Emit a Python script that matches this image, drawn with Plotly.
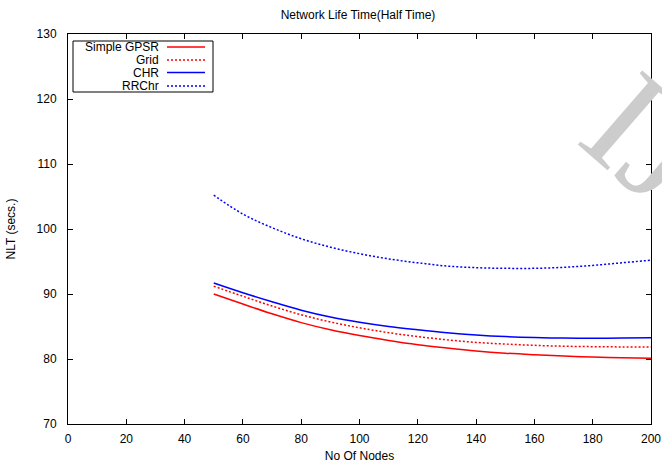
import plotly.graph_objects as go

# ---- data ----
nodes = [50, 60, 70, 80, 90, 100, 110, 120, 130, 140, 150, 160, 170, 180, 190, 200]
simple_gpsr = [90.0, 88.45, 86.95, 85.6, 84.5, 83.6, 82.85, 82.2, 81.7, 81.25, 80.9, 80.65, 80.45, 80.3, 80.2, 80.1]
grid = [91.2, 89.65, 88.15, 86.8, 85.7, 84.8, 84.05, 83.45, 82.95, 82.55, 82.3, 82.1, 81.97, 81.9, 81.86, 81.85]
chr_ = [91.7, 90.2, 88.8, 87.5, 86.45, 85.65, 85.0, 84.5, 84.05, 83.7, 83.45, 83.3, 83.22, 83.2, 83.22, 83.28]
rrchr = [105.2, 102.3, 100.2, 98.5, 97.2, 96.2, 95.4, 94.8, 94.3, 94.05, 93.95, 93.95, 94.1, 94.4, 94.8, 95.2]

series_names = ["Simple GPSR", "Grid", "CHR", "RRChr"]
series_values = [simple_gpsr, grid, chr_, rrchr]
series_colors = ["#ff0000", "#ff0000", "#0000ff", "#0000ff"]
series_dash = ["solid", "2px,2px", "solid", "2px,2px"]

x_ticks = list(range(0, 201, 20))
y_ticks = list(range(70, 131, 10))

FONT = "Liberation Sans, Arial, Helvetica, sans-serif"

fig = go.Figure()
for name, vals, col, dash in zip(series_names, series_values, series_colors, series_dash):
    fig.add_trace(go.Scatter(
        x=nodes, y=vals, mode="lines", name=name, line_shape="spline",
        line=dict(color=col, width=1.5, dash=dash), showlegend=False,
    ))

# ---- manual gnuplot-style legend (text right, sample on right) ----
L, R, T, B = 68, 651, 34, 424
W, H = R - L, B - T
px = lambda v: (v - L) / W
py = lambda v: (B - v) / H

annotations = []
# faint watermark seen on the reference (drawn first, behind everything)
annotations.append(dict(xref="paper", yref="paper", x=px(648), y=py(138),
                        xanchor="center", yanchor="middle", text="IJ", showarrow=False,
                        textangle=41,
                        font=dict(family="Liberation Serif, Times New Roman, serif", size=150,
                                  color="#cccccc")))

shapes = [dict(type="rect", xref="paper", yref="paper",
               x0=px(73), x1=px(213), y0=py(92), y1=py(41),
               line=dict(color="black", width=1), fillcolor="white", layer="above")]
rows = [47, 60, 72.5, 86]
for name, col, dash, ry in zip(series_names, series_colors, series_dash, rows):
    annotations.append(dict(xref="paper", yref="paper", x=px(160), y=py(ry),
                            xanchor="right", yanchor="middle", text=name, showarrow=False,
                            borderpad=0,
                            font=dict(family=FONT, size=12, color="black")))
    shapes.append(dict(type="line", xref="paper", yref="paper",
                       x0=px(167), x1=px(205), y0=py(ry), y1=py(ry),
                       line=dict(color=col, width=1.5, dash=dash), layer="above"))

axis_common = dict(showline=True, linecolor="black", linewidth=1, mirror="ticks",
                   ticks="inside", ticklen=5, tickcolor="black", tickwidth=1,
                   showgrid=False, zeroline=False, automargin=False,
                   tickfont=dict(family=FONT, size=12, color="black"))

fig.update_layout(
    width=662, height=466,
    margin=dict(l=L, r=662 - R, t=T, b=466 - B, autoexpand=False),
    paper_bgcolor="white", plot_bgcolor="white",
    title=dict(text="Network Life Time(Half Time)", x=358 / 662, xanchor="center",
               y=1 - 15 / 466, yanchor="middle", automargin=False,
               font=dict(family=FONT, size=12, color="black")),
    xaxis=dict(range=[0, 200], tickvals=x_ticks, ticklabelstandoff=4,
               title=dict(text="No Of Nodes", standoff=6,
                          font=dict(family=FONT, size=12, color="black")),
               **axis_common),
    yaxis=dict(range=[70, 130], tickvals=y_ticks, ticklabelstandoff=8,
               title=dict(text="NLT (secs.)", standoff=18,
                          font=dict(family=FONT, size=12, color="black")),
               **axis_common),
    shapes=shapes, annotations=annotations,
)

fig.write_html("out.html", config={"displayModeBar": False},
               post_script="document.body.style.margin='0';document.body.style.overflow='hidden';")
